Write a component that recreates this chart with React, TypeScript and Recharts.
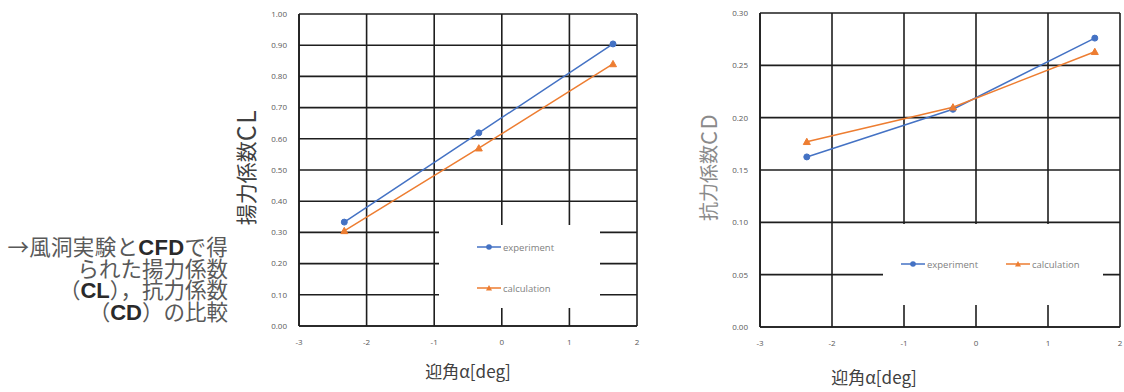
import React from "react";
import { LineChart, Line, XAxis, YAxis, CartesianGrid, Legend } from "recharts";

const angleCL = [-2.33, -0.34, 1.645];
const experimentCL = [0.333, 0.619, 0.904];
const calculationCL = [0.305, 0.57, 0.84];

const angleCD = [-2.35, -0.32, 1.65];
const experimentCD = [0.1625, 0.208, 0.276];
const calculationCD = [0.177, 0.21, 0.263];

const xTicks = [-3, -2, -1, 0, 1, 2];
const yTicksCL = [0, 0.1, 0.2, 0.3, 0.4, 0.5, 0.6, 0.7, 0.8, 0.9, 1.0];
const yTicksCD = [0, 0.05, 0.1, 0.15, 0.2, 0.25, 0.3];

const seriesNames = ["experiment", "calculation"];
const xTitle = "迎角α[deg]";
const yTitleCL = "揚力係数CL";
const yTitleCD = "抗力係数CD";

const BLUE = "#4472C4";
const ORANGE = "#ED7D31";
const GRID = "#1e1e1e";
const TICK = { fontSize: 8, fill: "#595959", fontFamily: "Open Sans, Liberation Sans, sans-serif" };
const CJK = "Noto Sans CJK JP, sans-serif";

const dataCL = angleCL.map((a, i) => ({ x: a, exp: experimentCL[i], calc: calculationCL[i] }));
const dataCD = angleCD.map((a, i) => ({ x: a, exp: experimentCD[i], calc: calculationCD[i] }));

const CircleDot = (props: any) => {
  const { cx, cy, index } = props;
  if (cx == null || cy == null) return <g key={"c" + index} />;
  return <circle key={"c" + index} cx={cx} cy={cy} r={3} fill={BLUE} stroke={BLUE} />;
};
const TriDot = (props: any) => {
  const { cx, cy, index } = props;
  if (cx == null || cy == null) return <g key={"t" + index} />;
  const s = 3.5;
  return (
    <path
      key={"t" + index}
      d={`M${cx},${cy - s} L${cx + s},${cy + s * 0.8} L${cx - s},${cy + s * 0.8} Z`}
      fill={ORANGE}
      stroke={ORANGE}
    />
  );
};

const YTitle = (props: any) => {
  const { viewBox, text, fontSize, latinSize, color, dx, dy, spacing } = props;
  if (!viewBox) return null;
  const m = /^(.*?)([A-Za-z]+)$/.exec(text) || [text, text, ""];
  const cx = viewBox.x + viewBox.width / 2 + dx;
  const cy = viewBox.y + viewBox.height / 2 + dy;
  return (
    <text
      x={cx}
      y={cy}
      transform={`rotate(-90, ${cx}, ${cy})`}
      textAnchor="middle"
      dominantBaseline="central"
      fontSize={fontSize}
      fill={color}
      fontFamily={CJK}
    >
      <tspan>{m[1]}</tspan>
      <tspan fontSize={latinSize} letterSpacing={spacing}>{m[2]}</tspan>
    </text>
  );
};

const Icon = ({ color, tri }: { color: string; tri: boolean }) => (
  <svg width={24} height={8} style={{ display: "block" }}>
    <line x1={0} y1={4} x2={24} y2={4} stroke={color} strokeWidth={1.5} />
    {tri ? (
      <path d="M12,1 L15,6.5 L9,6.5 Z" fill={color} />
    ) : (
      <circle cx={12} cy={4} r={2.8} fill={color} />
    )}
  </svg>
);

const makeLegend = (positions: { left: number; top: number }[]) => (props: any) => {
  const payload = [...(props.payload || [])].sort(
    (a: any, b: any) => seriesNames.indexOf(a.value) - seriesNames.indexOf(b.value)
  );
  return (
    <div style={{ position: "relative", width: "100%", height: "100%", background: "#fff" }}>
      {payload.map((entry: any, i: number) => (
        <div
          key={i}
          style={{
            position: "absolute",
            left: positions[i].left,
            top: positions[i].top - 6,
            height: 12,
            display: "flex",
            alignItems: "center",
            gap: 2,
            fontSize: 9.5,
            color: "#7f7f7f",
            fontFamily: "Open Sans, Liberation Sans, sans-serif",
            whiteSpace: "nowrap",
          }}
        >
          <Icon color={entry.color} tri={entry.value === seriesNames[1]} />
          <span>{entry.value}</span>
        </div>
      ))}
    </div>
  );
};

const legendCL = makeLegend([
  { left: 38, top: 22 },
  { left: 38, top: 63 },
]);
const legendCD = makeLegend([
  { left: 18, top: 40 },
  { left: 123, top: 40 },
]);

const latin = { fontFamily: "Liberation Sans, Arial, sans-serif", fontWeight: 700, color: "#2a2a2a", fontSize: 22 };

export default function App() {
  return (
    <div style={{ position: "absolute", left: 0, top: 0, width: 1124, height: 392, background: "#fff", overflow: "hidden" }}>
      <div
        style={{
          position: "absolute",
          right: 1124 - 228,
          top: 236,
          textAlign: "right",
          fontSize: 21.5,
          lineHeight: "20.3px",
          color: "#595959",
          fontFamily: CJK,
          whiteSpace: "nowrap",
        }}
      >
        <div style={{ letterSpacing: 0.3 }}>
          →風洞実験と<span style={latin}>CFD</span>で得
        </div>
        <div>られた揚力係数</div>
        <div>
          （<span style={latin}>CL</span>），抗力係数
        </div>
        <div>
          （<span style={latin}>CD</span>）の比較
        </div>
      </div>

      <div style={{ position: "absolute", left: 199, top: 0 }}>
        <LineChart width={451} height={392} data={dataCL} margin={{ top: 14, right: 13, bottom: 0, left: 0 }}>
          <CartesianGrid stroke={GRID} strokeWidth={1.6} />
          <XAxis
            type="number"
            dataKey="x"
            domain={[-3, 2]}
            ticks={xTicks}
            height={66}
            tickLine={false}
            tickMargin={7}
            axisLine={{ stroke: GRID, strokeWidth: 1.6 }}
            tick={TICK}
            label={{ value: xTitle, position: "insideBottom", offset: 14, style: { fontSize: 17, fill: "#404040", fontFamily: CJK } }}
          />
          <YAxis
            type="number"
            domain={[0, 1]}
            ticks={yTicksCL}
            width={100}
            tickLine={false}
            tickMargin={6}
            axisLine={{ stroke: GRID, strokeWidth: 1.6 }}
            tick={TICK}
            tickFormatter={(v: number) => v.toFixed(2)}
            label={<YTitle text={yTitleCL} fontSize={21} latinSize={25} color="#404040" dx={-4} dy={-3} spacing={1.5} />}
          />
          <Legend
            layout="horizontal"
            verticalAlign="middle"
            align="center"
            content={legendCL}
            wrapperStyle={{ left: 240, top: 225, width: 161, height: 83, background: "#fff" }}
          />
          <Line
            name={seriesNames[0]}
            dataKey="exp"
            stroke={BLUE}
            strokeWidth={1.5}
            dot={CircleDot}
            activeDot={false}
            isAnimationActive={false}
          />
          <Line
            name={seriesNames[1]}
            dataKey="calc"
            stroke={ORANGE}
            strokeWidth={1.5}
            dot={TriDot}
            activeDot={false}
            isAnimationActive={false}
          />
        </LineChart>
      </div>

      <div style={{ position: "absolute", left: 654, top: 0 }}>
        <LineChart width={470} height={392} data={dataCD} margin={{ top: 13, right: 4, bottom: 0, left: 0 }}>
          <CartesianGrid stroke={GRID} strokeWidth={1.6} />
          <XAxis
            type="number"
            dataKey="x"
            domain={[-3, 2]}
            ticks={xTicks}
            height={65}
            tickLine={false}
            tickMargin={7}
            axisLine={{ stroke: GRID, strokeWidth: 1.6 }}
            tick={TICK}
            label={{ value: xTitle, position: "insideBottom", offset: 8, dx: -66, style: { fontSize: 17, fill: "#404040", fontFamily: CJK } }}
          />
          <YAxis
            type="number"
            domain={[0, 0.3]}
            ticks={yTicksCD}
            width={106}
            tickLine={false}
            tickMargin={6}
            axisLine={{ stroke: GRID, strokeWidth: 1.6 }}
            tick={TICK}
            tickFormatter={(v: number) => v.toFixed(2)}
            label={<YTitle text={yTitleCD} fontSize={19} latinSize={22} color="#8a8a8a" dx={0} dy={-3} spacing={1.5} />}
          />
          <Legend
            layout="horizontal"
            verticalAlign="middle"
            align="center"
            content={legendCD}
            wrapperStyle={{ left: 229, top: 224, width: 220, height: 81, background: "#fff" }}
          />
          <Line
            name={seriesNames[0]}
            dataKey="exp"
            stroke={BLUE}
            strokeWidth={1.5}
            dot={CircleDot}
            activeDot={false}
            isAnimationActive={false}
          />
          <Line
            name={seriesNames[1]}
            dataKey="calc"
            stroke={ORANGE}
            strokeWidth={1.5}
            dot={TriDot}
            activeDot={false}
            isAnimationActive={false}
          />
        </LineChart>
      </div>
    </div>
  );
}
